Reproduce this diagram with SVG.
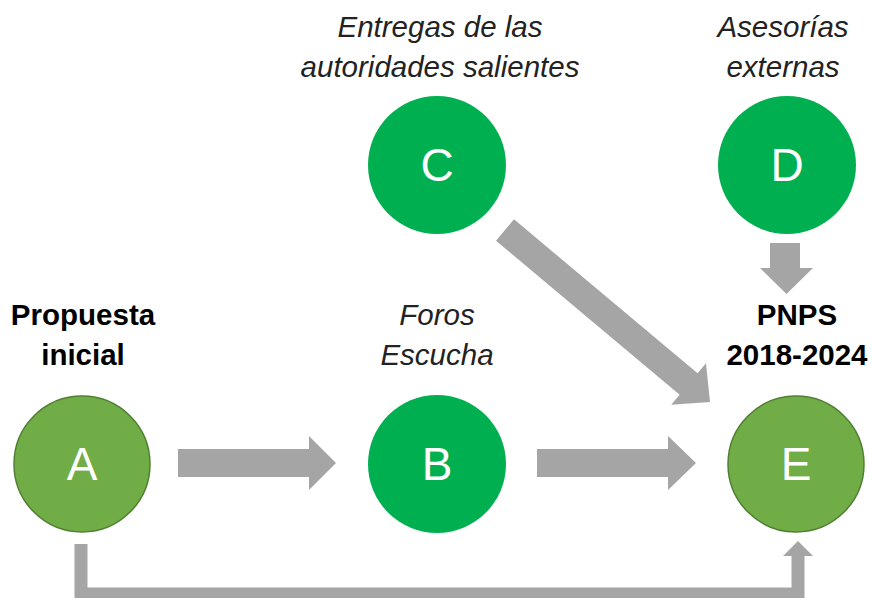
<svg xmlns="http://www.w3.org/2000/svg" width="873" height="598" viewBox="0 0 873 598">
<style>
.lbl{font-family:"Liberation Sans",Arial,sans-serif;font-size:29.5px;fill:#000;text-anchor:middle}
.it{font-style:italic;fill:#222}
.bd{font-weight:bold}
.let{font-family:"Liberation Sans",Arial,sans-serif;font-size:46px;fill:#fff;text-anchor:middle}
.g1{fill:#00B050}
.g2{fill:#70AD47;stroke:#507E32;stroke-width:1.5}
.arr{fill:#A5A5A5}
</style>
<rect width="873" height="598" fill="#fff"/>
<g id="connectors">
<polygon class="arr" points="178,449 309,449 309,436 336,463 309,490 309,477 178,477"/>
<polygon class="arr" points="537,449 668,449 668,436 696,463 668,490 668,477 537,477"/>
<polygon class="arr" points="770,243 800,243 800,268 813,268 786.5,294 760,268 770,268"/>
<polygon class="arr" points="514,219.3 697.6,373.3 706,363.3 710,402 671.2,404.7 679.6,394.7 496,240.7"/>
<polyline points="81,544 81,594 798,594 798,554" fill="none" stroke="#A5A5A5" stroke-width="13"/>
<polygon class="arr" points="783,556 813,556 798,541"/>
</g>
<g id="A"><circle class="g2" cx="82" cy="464" r="68"/><text class="let" x="82" y="480">A</text>
<text class="lbl bd" x="83" y="325">Propuesta</text><text class="lbl bd" x="83" y="365">inicial</text></g>
<g id="B"><circle class="g1" cx="437" cy="464" r="69"/><text class="let" x="437" y="480">B</text>
<text class="lbl it" x="437" y="325">Foros</text><text class="lbl it" x="437" y="365">Escucha</text></g>
<g id="C"><circle class="g1" cx="437" cy="165" r="69"/><text class="let" x="437" y="181">C</text>
<text class="lbl it" x="440" y="37">Entregas de las</text><text class="lbl it" x="440" y="77">autoridades salientes</text></g>
<g id="D"><circle class="g1" cx="787" cy="165" r="69"/><text class="let" x="787" y="181">D</text>
<text class="lbl it" x="783" y="37">Asesorías</text><text class="lbl it" x="783" y="77">externas</text></g>
<g id="E"><circle class="g2" cx="796" cy="464" r="68"/><text class="let" x="796" y="480">E</text>
<text class="lbl bd" x="797" y="325">PNPS</text><text class="lbl bd" x="797" y="365">2018-2024</text></g>
</svg>
